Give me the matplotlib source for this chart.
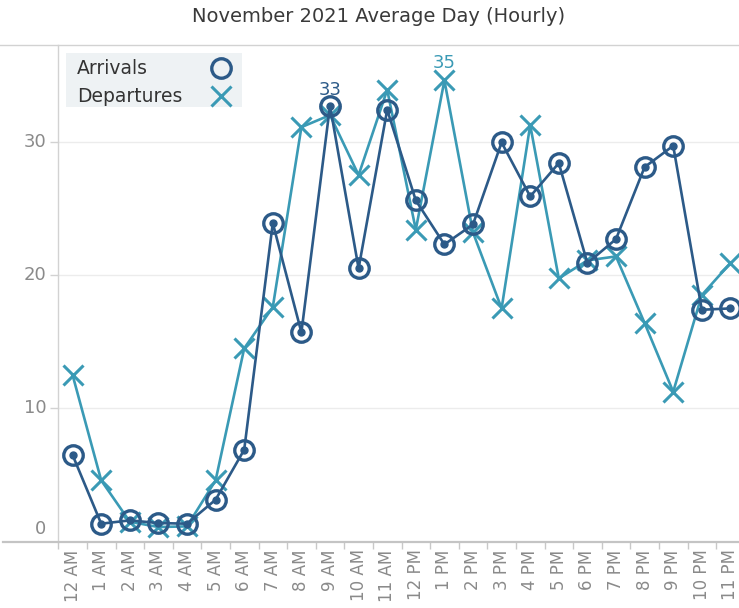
import matplotlib
matplotlib.use("Agg")
import matplotlib.pyplot as plt
from matplotlib.lines import Line2D
from matplotlib.patches import Rectangle
from matplotlib.transforms import offset_copy

hours = ["12 AM", "1 AM", "2 AM", "3 AM", "4 AM", "5 AM", "6 AM", "7 AM", "8 AM",
         "9 AM", "10 AM", "11 AM", "12 PM", "1 PM", "2 PM", "3 PM", "4 PM", "5 PM",
         "6 PM", "7 PM", "8 PM", "9 PM", "10 PM", "11 PM"]
arrivals = [6.5, 1.35, 1.6, 1.4, 1.35, 3.15, 6.9, 23.9, 15.7, 32.7, 20.5, 32.4,
            25.6, 22.3, 23.8, 29.95, 25.9, 28.4, 20.9, 22.7, 28.1, 29.7, 17.4, 17.5]
departures = [12.5, 4.6, 1.5, 1.1, 1.15, 4.6, 14.5, 17.6, 31.1, 32.0, 27.5, 33.9,
              23.4, 34.6, 23.2, 17.5, 31.25, 19.75, 21.1, 21.4, 16.4, 11.25, 18.5, 20.9]
yticks = [0, 10, 20, 30]
title = "November 2021 Average Day (Hourly)"
series_names = ["Arrivals", "Departures"]

C_ARR = "#2c5a88"
C_DEP = "#3a9ab5"
GRAY_TXT = "#8a8a8a"
AX_LINE = "#d2d2d2"

W, H = 739, 608
fig = plt.figure(figsize=(W / 100, H / 100), dpi=100)

def fx(x):
    return x / W

def fy(y):
    return 1 - y / H

left_px, right_px, top_px, bot_px = 58.3, 744.7, 45.0, 541.7
ax = fig.add_axes([fx(left_px), fy(bot_px), fx(right_px - left_px), (bot_px - top_px) / H])

x = list(range(len(hours)))
ax.set_xlim(-0.5, len(hours) - 0.5)
ax.set_ylim(0, 37.26)

# gridlines
for v in yticks[1:]:
    ax.axhline(v, color="#ececec", lw=1.0, zorder=0)

# departures
ax.plot(x, departures, color=C_DEP, lw=1.9, marker="x", markersize=15,
        markeredgewidth=2.2, zorder=3, clip_on=False)
# arrivals
ax.plot(x, arrivals, color=C_ARR, lw=1.9, marker="o", markersize=5,
        zorder=4, clip_on=False)
ax.plot(x, arrivals, linestyle="none", marker="o", markersize=14,
        markerfacecolor="none", markeredgecolor=C_ARR, markeredgewidth=2.4,
        zorder=4, clip_on=False)

# max labels
ia = max(range(len(arrivals)), key=lambda i: arrivals[i])
idp = max(range(len(departures)), key=lambda i: departures[i])
ax.annotate(f"{round(arrivals[ia])}", (ia, arrivals[ia]), xytext=(0, 7.8),
            textcoords="offset points", ha="center", va="baseline",
            fontsize=13, color=C_ARR, zorder=6)
ax.annotate(f"{round(departures[idp])}", (idp, departures[idp]), xytext=(0, 9.2),
            textcoords="offset points", ha="center", va="baseline",
            fontsize=13, color=C_DEP, zorder=6)

# spines
for s in ["top", "right", "bottom"]:
    ax.spines[s].set_visible(False)
ax.spines["left"].set_color(AX_LINE)
ax.spines["left"].set_linewidth(1.0)

# y ticks
ax.set_yticks(yticks[1:])
ax.set_yticklabels([])
ax.tick_params(axis="y", length=5.5, width=1, color=AX_LINE)
ytrans = offset_copy(ax.get_yaxis_transform(), fig=fig, x=-12, y=0, units="dots")
for v in yticks:
    yoff = 13 if v == 0 else 0
    tr = offset_copy(ytrans, fig=fig, x=0, y=yoff, units="dots")
    ax.text(0, v, str(v), transform=tr, ha="right", va="center",
            fontsize=13, color=GRAY_TXT)

# x ticks: marks at boundaries, labels at centers
ax.set_xticks([i - 0.5 for i in range(len(hours) + 1)])
ax.set_xticklabels([])
ax.tick_params(axis="x", which="major", length=5, width=1, color="#c8c8c8")
ax.set_xticks(x, minor=True)
ax.set_xticklabels(hours, minor=True, rotation=90, fontsize=12, color=GRAY_TXT)
ax.tick_params(axis="x", which="minor", length=0, pad=5.5)

# top and bottom full-width lines
fig.add_artist(Line2D([0, 1], [fy(top_px), fy(top_px)], color=AX_LINE, lw=1.0))
fig.add_artist(Line2D([fx(3), 1], [fy(bot_px), fy(bot_px)], color="#c4c4c4", lw=1.6))

# title
fig.text(fx(379), fy(17), title, ha="center", va="center", fontsize=14, color="#3a3a3a")

# legend (manual)
fig.add_artist(Rectangle((fx(66), fy(107)), fx(242 - 66), (107 - 53) / H,
                         facecolor="#eef2f4", edgecolor="none", zorder=5))
fig.text(fx(77), fy(68), series_names[0], ha="left", va="center", fontsize=13.5,
         color="#333333", zorder=6)
fig.text(fx(77), fy(96), series_names[1], ha="left", va="center", fontsize=13.5,
         color="#333333", zorder=6)
fig.add_artist(Line2D([fx(221)], [fy(68)], marker="o", markersize=14,
                      markerfacecolor="none", markeredgecolor=C_ARR,
                      markeredgewidth=2.4, linestyle="none", zorder=7))
fig.add_artist(Line2D([fx(221)], [fy(96)], marker="x", markersize=15,
                      markeredgecolor=C_DEP, markeredgewidth=2.2,
                      linestyle="none", zorder=7))

fig.savefig("out.png", dpi=100)
